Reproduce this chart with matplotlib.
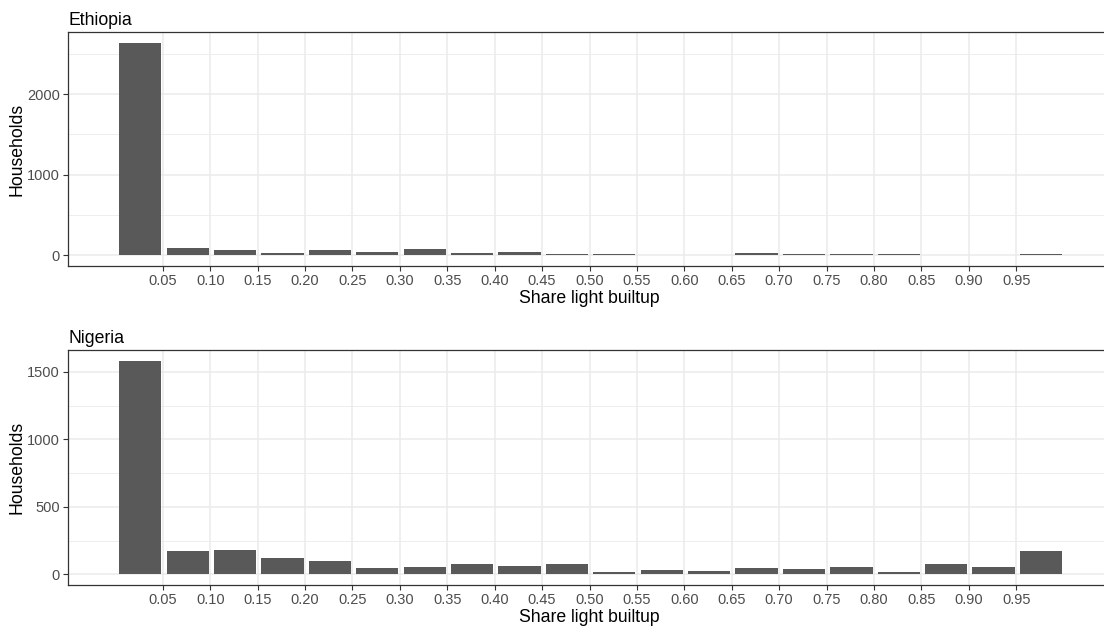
import numpy as np
import matplotlib
matplotlib.use("Agg")
import matplotlib.pyplot as plt

plt.rcParams['font.family'] = ['Liberation Sans', 'DejaVu Sans']

# 20 bins of width 0.05 on share of light builtup area
bin_left = [round(0.05 * i, 2) for i in range(20)]
tick_values = [round(0.05 * i, 2) for i in range(1, 20)]
tick_labels = [f"{v:.2f}" for v in tick_values]

ethiopia_counts = [2640, 87, 62, 25, 70, 37, 83, 25, 37, 12,
                   13, 0, 0, 25, 12, 12, 17, 0, 0, 12]
nigeria_counts = [1582, 171, 181, 124, 99, 47, 52, 79, 62, 77,
                  15, 32, 25, 47, 37, 55, 17, 77, 52, 174]

panels = [
    ("Ethiopia", ethiopia_counts, [0, 1000, 2000], [500, 1500, 2500]),
    ("Nigeria", nigeria_counts, [0, 500, 1000, 1500], [250, 750, 1250]),
]

W, H = 1104, 633
fig = plt.figure(figsize=(W / 100, H / 100), dpi=100)

# panel boxes in pixel coordinates: left, top, right, bottom
boxes = [(68, 32, 1111, 266), (68, 350, 1111, 585)]

bar_color = "#595959"
grid_color = "#EBEBEB"
text_color = "#4D4D4D"
border_color = "#333333"

# bars sit inside each bin with a thin gap on either side
bar_offset = 0.0039
bar_width = 0.0446

for (title, counts, majors, minors), (l, t, r, b) in zip(panels, boxes):
    ax = fig.add_axes([l / W, 1 - b / H, (r - l) / W, (b - t) / H])
    ymax = max(counts)
    pad = 0.05 * ymax
    ax.set_xlim(-0.05, 1.05)
    ax.set_ylim(-pad, ymax + pad)

    for v in tick_values:
        ax.axvline(v, color=grid_color, lw=1.1, zorder=0)
    for v in majors:
        ax.axhline(v, color=grid_color, lw=1.1, zorder=0)
    for v in minors:
        ax.axhline(v, color=grid_color, lw=0.6, zorder=0)

    ax.bar([x + bar_offset for x in bin_left], counts, width=bar_width,
           align='edge', color=bar_color, linewidth=0, zorder=2)

    ax.set_xticks(tick_values)
    ax.set_xticklabels(tick_labels)
    ax.set_yticks(majors)
    ax.set_yticklabels([str(v) for v in majors])
    ax.tick_params(axis='both', colors=border_color, labelcolor=text_color,
                   labelsize=10.5, length=3.5, width=0.8, pad=2.5)

    for s in ax.spines.values():
        s.set_color(border_color)
        s.set_linewidth(0.9)

    ax.set_xlabel("Share light builtup", fontsize=12.7, color="black", labelpad=1)
    ax.set_ylabel("Households", fontsize=12.7, color="black", labelpad=1)
    ax.set_title(title, loc='left', fontsize=12.7, color="black", pad=5)

fig.savefig("out.png", dpi=100, facecolor="white")
